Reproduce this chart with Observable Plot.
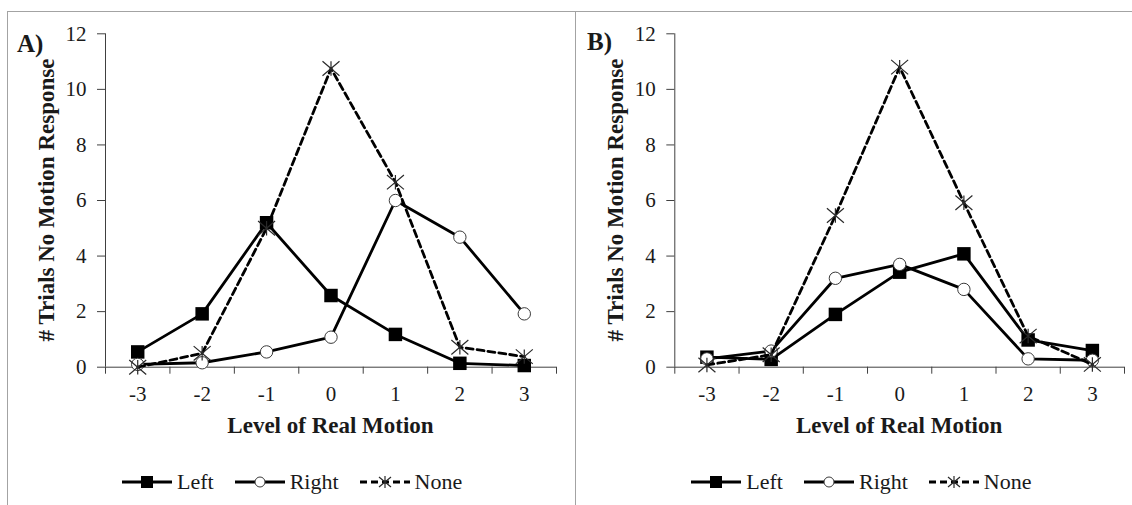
<!DOCTYPE html>
<html><head><meta charset="utf-8">
<script src="https://cdn.jsdelivr.net/npm/d3@7"></script>
<script src="https://cdn.jsdelivr.net/npm/@observablehq/plot@0.6"></script>
<style>
html,body{margin:0;padding:0;background:#fff;}
#root{position:relative;width:1132px;height:505px;overflow:hidden;background:#fff;font-family:"Liberation Serif","Tinos","Times New Roman","DejaVu Serif",serif;color:#1a1a1a;}
.panel{position:absolute;top:11px;height:494px;border-top:1px solid #a3a3a3;border-left:1px solid #a3a3a3;box-sizing:border-box;}
.plotbox{position:absolute;left:0;top:0;}
.plab{position:absolute;font-weight:bold;font-size:25px;line-height:25px;white-space:nowrap;}
.xt{position:absolute;font-weight:bold;font-size:23px;line-height:23px;white-space:nowrap;transform:translateX(-50%);}
.yt{position:absolute;font-weight:bold;font-size:23px;line-height:23px;white-space:nowrap;transform:translate(-50%,-50%) rotate(-90deg);}
.legend{position:absolute;display:flex;align-items:center;font-size:22px;line-height:22px;height:22px;}
.item{display:flex;align-items:center;margin-right:21px;}
.item span{margin-left:5px;}
</style></head><body><div id="root"></div>
<script>
// ---- data ----
const levels = [-3, -2, -1, 0, 1, 2, 3];
const yTicks = [0, 2, 4, 6, 8, 10, 12];
const seriesNames = ["Left", "Right", "None"];
const panelLabels = ["A)", "B)"];
const xTitle = "Level of Real Motion";
const yTitle = "# Trials No Motion Response";

const leftA  = [0.55, 1.92, 5.2, 2.58, 1.18, 0.14, 0.06];
const rightA = [0.1, 0.16, 0.55, 1.08, 6.0, 4.68, 1.92];
const noneA  = [0.0, 0.5, 5.0, 10.75, 6.66, 0.72, 0.38];

const leftB  = [0.36, 0.28, 1.9, 3.42, 4.08, 0.98, 0.6];
const rightB = [0.3, 0.58, 3.2, 3.7, 2.8, 0.3, 0.25];
const noneB  = [0.08, 0.45, 5.46, 10.8, 5.92, 1.12, 0.1];

// ---- styling ----
const fontStack = "'Liberation Serif','Tinos','Times New Roman','DejaVu Serif',serif";
const axisColor = "#404040";
const textColor = "#1a1a1a";
const starSymbol = {
  draw(ctx, size) {
    const r = Math.sqrt(size / Math.PI), h = r * 0.85;
    ctx.moveTo(-r, -h); ctx.lineTo(r, h);
    ctx.moveTo(-r, h); ctx.lineTo(r, -h);
    ctx.moveTo(0, -h); ctx.lineTo(0, h);
  }
};
const seriesStyle = {
  Left:  {line: {}, dot: {symbol: "square", r: 7.6, fill: "#000", stroke: "none"}},
  Right: {line: {}, dot: {symbol: "circle", r: 6.2, fill: "#fff", stroke: "#3a3a3a", strokeWidth: 1}},
  None:  {line: {strokeDasharray: "7,4"}, dot: {symbol: starSymbol, r: 8.5, fill: "none", stroke: "#2a2a2a", strokeWidth: 1.2}}
};

const root = document.getElementById("root");

function makePanel(cfg) {
  const {values, left, width, axisX0, axisX1, label, labelTop} = cfg;
  const panel = document.createElement("div");
  panel.className = "panel";
  panel.style.left = left + "px";
  panel.style.width = (width + 1) + "px";
  root.appendChild(panel);

  const contentLeft = left + 1, contentTop = 12;
  const H = 493;
  const yTop = 33.3, yBottom = 366.7;
  const rows = seriesNames.flatMap((s, i) => levels.map((l, j) => ({level: l, value: values[i][j], series: s})));

  const marks = [
    Plot.ruleY([0], {stroke: axisColor, strokeWidth: 1}),
    Plot.ruleX([-3.5], {stroke: axisColor, strokeWidth: 1}),
    Plot.axisY(yTicks, {tickSize: 8, tickPadding: 11, tickFormat: d => String(d), label: null, stroke: axisColor, fill: textColor, fontSize: 21}),
    Plot.axisX(d3.range(-3.5, 4, 1), {tickSize: 7, tickFormat: () => "", label: null, stroke: axisColor}),
    Plot.axisX(levels, {tickSize: 0, tickPadding: 19, tickFormat: d => String(d), label: null, fill: textColor, fontSize: 21})
  ];
  for (const s of seriesNames) {
    const d = rows.filter(r => r.series === s);
    marks.push(Plot.line(d, {x: "level", y: "value", stroke: "#000", strokeWidth: 2.8, ...seriesStyle[s].line}));
    marks.push(Plot.dot(d, {x: "level", y: "value", ...seriesStyle[s].dot}));
  }

  const svg = Plot.plot({
    width: width,
    height: H,
    marginLeft: axisX0 - contentLeft,
    marginRight: (contentLeft + width) - axisX1,
    marginTop: yTop - contentTop,
    marginBottom: (contentTop + H) - yBottom,
    x: {type: "linear", domain: [-3.5, 3.5]},
    y: {type: "linear", domain: [0, 12]},
    style: {fontFamily: fontStack, fontSize: "21px", color: textColor, background: "transparent", overflow: "visible"},
    marks
  });
  svg.classList.add("plotbox");
  panel.appendChild(svg);

  const plab = document.createElement("div");
  plab.className = "plab"; plab.textContent = label;
  plab.style.left = cfg.labelLeft + "px"; plab.style.top = labelTop + "px";
  root.appendChild(plab);

  const xt = document.createElement("div");
  xt.className = "xt"; xt.textContent = xTitle;
  xt.style.left = ((axisX0 + axisX1) / 2) + "px"; xt.style.top = "414px";
  root.appendChild(xt);

  const yt = document.createElement("div");
  yt.className = "yt"; yt.textContent = yTitle;
  yt.style.left = (axisX0 - 59) + "px"; yt.style.top = ((yTop + yBottom) / 2) + "px";
  root.appendChild(yt);

  const lg = document.createElement("div");
  lg.className = "legend";
  lg.style.left = (axisX0 + 17) + "px"; lg.style.top = "471px";
  for (const s of seriesNames) {
    const it = document.createElement("div"); it.className = "item";
    let marker = "";
    if (s === "Left") marker = '<rect x="19" y="4" width="12" height="12" fill="#000"/>';
    if (s === "Right") marker = '<circle cx="25" cy="10" r="5" fill="#fff" stroke="#3a3a3a" stroke-width="1"/>';
    if (s === "None") marker = '<path d="M19,5L31,15M19,15L31,5M25,4L25,16" stroke="#2a2a2a" stroke-width="1.2" fill="none"/>';
    const dash = s === "None" ? ' stroke-dasharray="7,4"' : "";
    it.innerHTML = '<svg width="50" height="20"><line x1="0" y1="10" x2="50" y2="10" stroke="#000" stroke-width="2.8"' + dash + '/>' + marker + '</svg><span>' + s + '</span>';
    lg.appendChild(it);
  }
  root.appendChild(lg);
}

makePanel({values: [leftA, rightA, noneA], left: 7, width: 567, axisX0: 105, axisX1: 556, label: panelLabels[0], labelLeft: 17, labelTop: 30.5});
makePanel({values: [leftB, rightB, noneB], left: 575, width: 556, axisX0: 674.3, axisX1: 1124, label: panelLabels[1], labelLeft: 587, labelTop: 28.5});
</script>
</body></html>
